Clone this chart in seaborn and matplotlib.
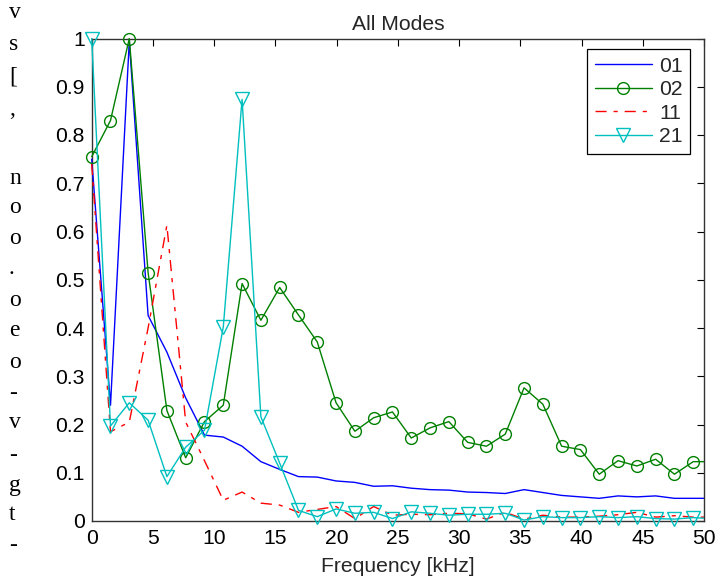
import numpy as np
import pandas as pd
import matplotlib
matplotlib.use("Agg")
import matplotlib.pyplot as plt
from matplotlib.patches import Rectangle
import seaborn as sns

# ---- data ----
freq_khz = [0.0, 1.535, 3.07, 4.605, 6.14, 7.675, 9.21, 10.745, 12.28, 13.815,
            15.35, 16.885, 18.42, 19.955, 21.49, 23.025, 24.56, 26.095, 27.63, 29.165,
            30.7, 32.235, 33.77, 35.305, 36.84, 38.375, 39.91, 41.445, 42.98, 44.515,
            46.05, 47.585, 49.12, 50.655]

mode_01 = [0.75, 0.24, 0.995, 0.426, 0.35, 0.255, 0.178, 0.174, 0.155, 0.123,
           0.107, 0.092, 0.091, 0.083, 0.080, 0.072, 0.073, 0.068, 0.065, 0.064,
           0.060, 0.059, 0.057, 0.065, 0.059, 0.053, 0.050, 0.047, 0.052, 0.050,
           0.052, 0.047, 0.047, 0.047]

mode_02 = [0.755, 0.83, 1.0, 0.515, 0.229, 0.131, 0.206, 0.24, 0.492, 0.416,
           0.484, 0.427, 0.371, 0.245, 0.186, 0.214, 0.226, 0.172, 0.193, 0.206,
           0.163, 0.155, 0.180, 0.276, 0.242, 0.155, 0.148, 0.097, 0.125, 0.114,
           0.128, 0.097, 0.123, 0.123]

mode_11 = [0.74, 0.185, 0.205, 0.40, 0.613, 0.205, 0.125, 0.043, 0.06, 0.037,
           0.033, 0.018, 0.024, 0.03, 0.005, 0.03, 0.012, 0.014, 0.013, 0.016,
           0.015, 0.004, 0.018, 0.004, 0.012, 0.008, 0.008, 0.010, 0.013, 0.018,
           0.008, 0.011, 0.008, 0.008]

mode_21 = [1.0, 0.197, 0.245, 0.209, 0.092, 0.153, 0.188, 0.402, 0.874, 0.216,
           0.12, 0.022, 0.009, 0.025, 0.016, 0.018, 0.005, 0.019, 0.016, 0.012,
           0.014, 0.014, 0.016, 0.002, 0.009, 0.007, 0.007, 0.009, 0.007, 0.009,
           0.005, 0.004, 0.007, 0.005]

legend_labels = ["01", "02", "11", "21"]
x_ticks = [0, 5, 10, 15, 20, 25, 30, 35, 40, 45, 50]
y_ticks = [0, 0.1, 0.2, 0.3, 0.4, 0.5, 0.6, 0.7, 0.8, 0.9, 1]
y_tick_labels = ["0", "0.1", "0.2", "0.3", "0.4", "0.5", "0.6", "0.7", "0.8", "0.9", "1"]
margin_chars = ["v", "s", "[", ",", "n", "o", "o", ".", "o", "e", "o", "-", "v", "-", "g", "t", "-"]
margin_rows_px = [12, 45, 77, 110, 178, 207, 238, 268, 300, 330, 362, 393, 423, 455, 485, 515, 545]

df = pd.DataFrame({"f": freq_khz, "01": mode_01, "02": mode_02,
                   "11": mode_11, "21": mode_21})

sns.set_theme(style="white")
plt.rcParams["font.family"] = ["Liberation Sans", "DejaVu Sans"]

W, H = 728, 577
fig = plt.figure(figsize=(W / 100, H / 100), dpi=100)
ax = fig.add_axes([91.7 / W, 1 - 521 / H, (704 - 91.7) / W, (521 - 38.5) / H])

FS = 15.2
blue = "#0000ff"
green = "#008000"
red = "#ff0000"
cyan = "#00bfbf"

sns.lineplot(data=df, x="f", y="01", ax=ax, color=blue, lw=1.0,
             label=legend_labels[0], errorbar=None)
sns.lineplot(data=df, x="f", y="02", ax=ax, color=green, lw=1.0, marker="o",
             markersize=8.5, markerfacecolor="none", markeredgecolor=green,
             markeredgewidth=1.0, label=legend_labels[1], errorbar=None)
sns.lineplot(data=df, x="f", y="11", ax=ax, color=red, lw=1.0,
             linestyle=(0, (8, 5, 3, 5)), label=legend_labels[2], errorbar=None)
sns.lineplot(data=df, x="f", y="21", ax=ax, color=cyan, lw=1.0, marker="v",
             markersize=9.5, markerfacecolor="none", markeredgecolor=cyan,
             markeredgewidth=1.0, label=legend_labels[3], errorbar=None)

# let markers overhang the top/left frame (as in the reference), but keep the
# right edge clipped at 50 kHz
clip = Rectangle((-0.05, -0.05), 1.05, 1.1, transform=ax.transAxes,
                 facecolor="none", edgecolor="none")
for ln in ax.get_lines():
    ln.set_clip_path(clip)

ax.set_xlim(0, 50)
ax.set_ylim(0, 1)
ax.set_xticks(x_ticks)
ax.set_xticklabels([str(t) for t in x_ticks])
ax.set_yticks(y_ticks)
ax.set_yticklabels(y_tick_labels)
ax.tick_params(direction="in", length=5, width=0.8, top=True, right=True,
               labelsize=FS, colors="#000000", pad=5)
ax.tick_params(axis="x", pad=6)
for s in ax.spines.values():
    s.set_visible(True)
    s.set_color("#333333")
    s.set_linewidth(1.0)
    s.set_zorder(1)

ax.set_xlabel("Frequency [kHz]", fontsize=FS, labelpad=6)
ax.set_ylabel("")
ax.set_title("All Modes", fontsize=FS, pad=6)

leg = ax.legend(loc="upper right", bbox_to_anchor=(0.977, 0.978), borderaxespad=0,
                fontsize=FS, frameon=True, fancybox=False, shadow=False,
                handlelength=2.7, labelspacing=0.22, handletextpad=0.35,
                borderpad=0.35)
leg.get_frame().set_edgecolor("#000000")
leg.get_frame().set_linewidth(0.9)
leg.get_frame().set_alpha(1)

for ch, ypx in zip(margin_chars, margin_rows_px):
    fig.text(9 / W, 1 - ypx / H, ch, fontsize=17, va="center", ha="left",
             family=["Liberation Serif", "DejaVu Serif"], color="#000000")

fig.savefig("out.png", dpi=100)
